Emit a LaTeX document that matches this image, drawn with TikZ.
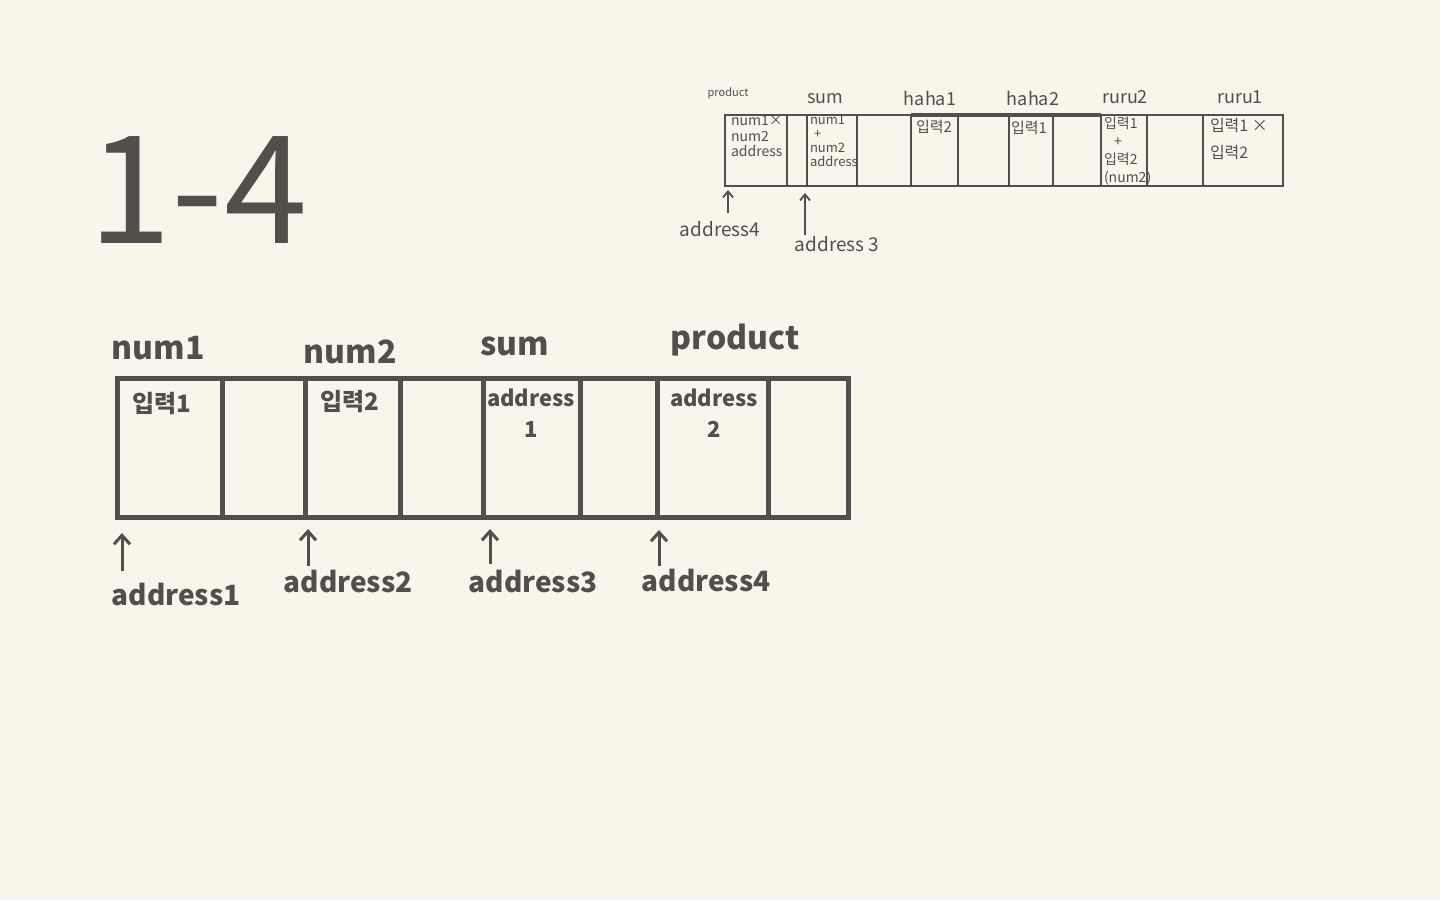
\documentclass[tikz,border=0pt]{standalone}
\usepackage{fontspec}
\setmainfont{Noto Sans CJK KR}
\usetikzlibrary{arrows.meta}
\definecolor{paper}{HTML}{F8F6EB}
\definecolor{ink}{HTML}{544E4A}
\begin{document}
\begin{tikzpicture}[x=1pt,y=-1pt,
  every node/.style={text=ink, inner sep=0pt, outer sep=0pt},
  bigcell/.style={draw=ink, line width=5pt, minimum height=139pt, anchor=north west},
  smallcell/.style={draw=ink, line width=2.5pt, minimum height=71pt, anchor=north west},
  bigname/.style={font=\fontsize{32}{36}\selectfont\bfseries},
  bigtxt/.style={font=\fontsize{24}{31}\selectfont\bfseries, align=center, anchor=north},
  bigaddr/.style={font=\fontsize{28}{32}\selectfont\bfseries},
  smallname/.style={font=\fontsize{18}{20}\selectfont},
  smalltxt/.style={font=\fontsize{14}{15.5}\selectfont, align=left, anchor=north west},
  smallkr/.style={font=\fontsize{15}{19}\selectfont, align=left, anchor=north west},
  bigarrow/.style={draw=ink, line width=3pt, -{Straight Barb[length=9pt,width=16pt]}},
  smallarrow/.style={draw=ink, line width=1.8pt, -{Straight Barb[length=6pt,width=10pt]}}
]
\fill[paper] (0,0) rectangle (1440,900);
\useasboundingbox (0,0) rectangle (1440,900);

% title
\node[font=\fontsize{150}{150}\selectfont] (title) at (198,190) {1-4};

% ---------- big memory row ----------
\node[bigcell, minimum width=105pt] (b1) at (117,378) {};
\node[bigcell, minimum width=83pt]  (b2) at (222,378) {};
\node[bigcell, minimum width=95pt]  (b3) at (305,378) {};
\node[bigcell, minimum width=83pt]  (b4) at (400,378) {};
\node[bigcell, minimum width=97pt]  (b5) at (483,378) {};
\node[bigcell, minimum width=77pt]  (b6) at (580,378) {};
\node[bigcell, minimum width=111pt] (b7) at (657,378) {};
\node[bigcell, minimum width=80pt]  (b8) at (768,378) {};

\node[bigname] (lnum1) at (158,348) {num1};
\node[bigname] (lnum2) at (350,352) {num2};
\node[bigname] (lsum) at (515,346) {sum};
\node[bigname] (lprod) at (735,340) {product};

\node[bigtxt] (t1) at (162,392) {입력1};
\node[bigtxt] (t3) at (350,390) {입력2};
\node[bigtxt, font=\fontsize{22}{31}\selectfont\bfseries] (t5) at (531,389) {address\\1};
\node[bigtxt, font=\fontsize{22}{31}\selectfont\bfseries] (t7) at (714,389) {address\\2};

\node[bigaddr] (a1) at (176,594) {address1};
\node[bigaddr] (a2) at (348,582) {address2};
\node[bigaddr] (a3) at (533,582) {address3};
\node[bigaddr] (a4) at (706,580) {address4};

\coordinate (a1b) at (122,571); \coordinate (a1t) at (122,533);
\coordinate (a2b) at (308,566); \coordinate (a2t) at (308,529);
\coordinate (a3b) at (490,564); \coordinate (a3t) at (490,529);
\coordinate (a4b) at (659,566); \coordinate (a4t) at (659,530);
\draw[bigarrow] (a1b) -- (a1t);
\draw[bigarrow] (a2b) -- (a2t);
\draw[bigarrow] (a3b) -- (a3t);
\draw[bigarrow] (a4b) -- (a4t);

% ---------- small memory row ----------
\node[smallcell, minimum width=62pt] (s1) at (725,115) {};
\node[smallcell, minimum width=20pt] (s2) at (787,115) {};
\node[smallcell, minimum width=50pt] (s3) at (807,115) {};
\node[smallcell, minimum width=54pt] (s4) at (857,115) {};
\node[smallcell, minimum width=47pt] (s5) at (911,115) {};
\node[smallcell, minimum width=51pt] (s6) at (958,115) {};
\node[smallcell, minimum width=44pt] (s7) at (1009,115) {};
\node[smallcell, minimum width=48pt] (s8) at (1053,115) {};
\node[smallcell, minimum width=46pt] (s9) at (1101,115) {};
\node[smallcell, minimum width=56pt] (s10) at (1147,115) {};
\node[smallcell, minimum width=80pt] (s11) at (1203,115) {};
\draw[ink, line width=4pt] (s5.north west) -- (s9.north west);

\node[font=\fontsize{11}{13}\selectfont] (sprod) at (728,93) {product};
\node[smallname] (ssum) at (825,99) {sum};
\node[smallname] (shaha1) at (930,98) {haha1};
\node[smallname] (shaha2) at (1033,98) {haha2};
\node[smallname] (sruru2) at (1125,97) {ruru2};
\node[smallname] (sruru1) at (1240,97) {ruru1};

\node[smalltxt] (st1) at (731,116) {num1×\\num2\\address};
\node[smalltxt, font=\fontsize{13}{14}\selectfont] (st3) at (810,115) {num1\\\hspace*{4pt}+\\num2\\address};
\node[smallkr] (st5) at (916,120) {입력2};
\node[smallkr] (st7) at (1011,121) {입력1};
\node[smallkr, font=\fontsize{14}{18}\selectfont] (st9) at (1104,117) {입력1\\\hspace*{10pt}+\\입력2\\(num2)};
\node[smallkr, font=\fontsize{16}{27}\selectfont] (st11) at (1210,118) {입력1 ×\\입력2};

\node[smallname, font=\fontsize{19}{20}\selectfont] (sa4) at (720,229) {address4};
\node[smallname, font=\fontsize{19}{20}\selectfont] (sa3) at (837,244) {address 3};
\coordinate (sa4b) at (728,213); \coordinate (sa4t) at (728,190);
\coordinate (sa3b) at (805,235); \coordinate (sa3t) at (805,193);
\draw[smallarrow] (sa4b) -- (sa4t);
\draw[smallarrow] (sa3b) -- (sa3t);
\end{tikzpicture}
\end{document}
